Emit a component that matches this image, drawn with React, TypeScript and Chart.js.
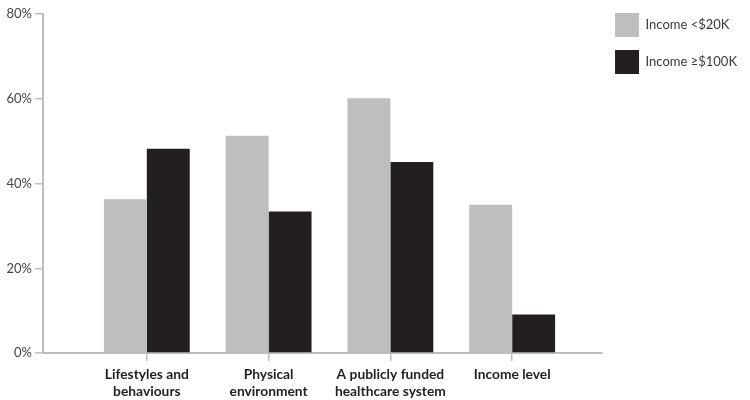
import React, { useEffect, useRef } from "react";
import { Chart, registerables } from "chart.js";

Chart.register(...registerables);

const categories: string[][] = [
  ["Lifestyles and", "behaviours"],
  ["Physical", "environment"],
  ["A publicly funded", "healthcare system"],
  ["Income level"],
];
const categoryPositions = [1, 2, 3, 4];
const seriesNames = ["Income <$20K", "Income ≥$100K"];
const lowIncome = [36.3, 51.3, 60.1, 35.0];
const highIncome = [48.2, 33.4, 45.1, 9.1];
const yTicks = [0, 20, 40, 60, 80];

const FONT = "Lato, 'Open Sans', sans-serif";

export default function App() {
  const ref = useRef<HTMLCanvasElement | null>(null);

  useEffect(() => {
    if (!ref.current) return;
    const chart = new Chart(ref.current, {
      type: "bar",
      data: {
        datasets: [
          {
            label: seriesNames[0],
            data: categoryPositions.map((x, i) => ({ x, y: lowIncome[i] })),
            backgroundColor: "#bcbec0",
            borderWidth: 0,
          },
          {
            label: seriesNames[1],
            data: categoryPositions.map((x, i) => ({ x, y: highIncome[i] })),
            backgroundColor: "#231f20",
            borderWidth: 0,
          },
        ],
      },
      options: {
        responsive: false,
        animation: false,
        maintainAspectRatio: false,
        layout: { padding: { top: 0, left: 0, right: 3, bottom: -5 } },
        datasets: {
          bar: { categoryPercentage: 0.705, barPercentage: 1 },
        },
        plugins: {
          tooltip: { enabled: false },
          legend: {
            position: "right",
            align: "start",
            labels: {
              boxWidth: 24,
              boxHeight: 24,
              padding: 13,
              color: "#3a3a3a",
              font: { family: FONT, size: 13 },
            },
          },
        },
        scales: {
          x: {
            type: "linear",
            offset: false,
            min: 0.1475,
            max: 4.738,
            afterBuildTicks: (scale: any) => {
              scale.ticks = categoryPositions.map((v) => ({ value: v }));
            },
            ticks: {
              autoSkip: false,
              maxRotation: 0,
              padding: 4,
              color: "#231f20",
              font: { family: FONT, size: 13.8, weight: "bold", lineHeight: 1.3 },
              callback: (value: any) => {
                const idx = categoryPositions.indexOf(Number(value));
                return idx >= 0 ? categories[idx] : "";
              },
            },
            grid: {
              offset: false,
              drawOnChartArea: false,
              drawTicks: true,
              tickLength: 8,
              color: "#bdbdbd",
              lineWidth: 1.5,
            },
            border: { display: true, color: "#bdbdbd", width: 2 },
          },
          y: {
            min: 0,
            max: 80,
            afterBuildTicks: (scale: any) => {
              scale.ticks = yTicks.map((v) => ({ value: v }));
            },
            afterFit: (scale: any) => {
              scale.width = 43;
            },
            ticks: {
              padding: 3,
              color: "#444444",
              font: { family: FONT, size: 13, lineHeight: 1.69 },
              callback: (value: any) => `${value}%`,
            },
            grid: {
              drawOnChartArea: false,
              drawTicks: true,
              tickLength: 8,
              color: "#bdbdbd",
              lineWidth: 1.5,
            },
            border: { display: true, color: "#bdbdbd", width: 2 },
          },
        },
      },
    } as any);
    return () => chart.destroy();
  }, []);

  return (
    <div style={{ position: "absolute", left: 0, top: 0, width: 750, height: 400, background: "#fff" }}>
      <canvas ref={ref} width={750} height={400} style={{ display: "block" }} />
    </div>
  );
}
